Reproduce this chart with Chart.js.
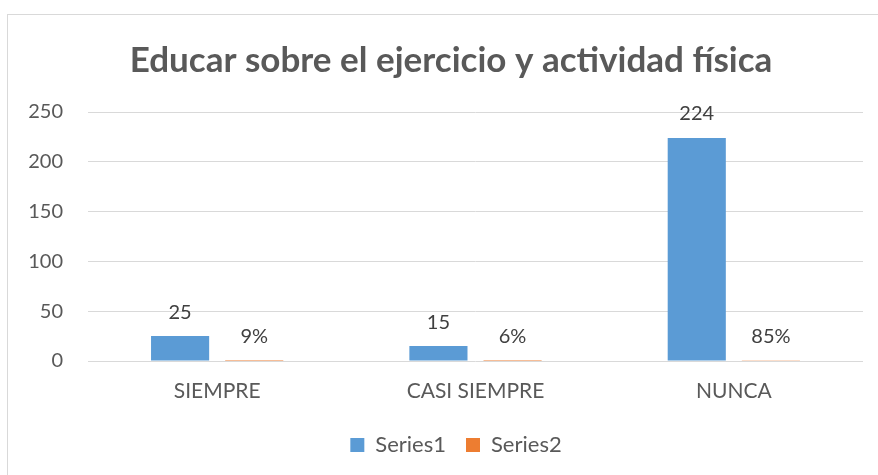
<!DOCTYPE html>
<html>
<head>
<meta charset="utf-8">
<script src="https://cdn.jsdelivr.net/npm/chart.js@4"></script>
<style>
  body { margin: 0; background: #fff; }
  #wrap { width: 878px; height: 475px; position: relative; }
</style>
</head>
<body>
<div id="wrap"><canvas id="chartCanvas"></canvas></div>
<script>
const categorias = ["SIEMPRE", "CASI SIEMPRE", "NUNCA"];
const series1 = [25, 15, 224];
const series2 = [0.09, 0.06, 0.85];
const yTicks = [0, 50, 100, 150, 200, 250];

const FONT = "Lato, 'Open Sans', sans-serif";
const GRIS = "#595959";

// borde del marco del gráfico (como en Excel)
const marcoPlugin = {
  id: "marco",
  beforeDraw(chart) {
    const ctx = chart.ctx;
    ctx.save();
    ctx.strokeStyle = "#d9d9d9";
    ctx.lineWidth = 1;
    ctx.strokeRect(7.5, 14.5, 1000, 1000);
    ctx.restore();
  },
  // el marco original sigue más allá del borde derecho: título y leyenda van algo corridos
  afterLayout(chart) {
    if (chart.titleBlock) chart.titleBlock.left = 39;
    if (chart.legend) chart.legend.left = 49;
  }
};

// etiquetas de datos sobre las barras
const etiquetasPlugin = {
  id: "etiquetas",
  afterDatasetsDraw(chart) {
    const ctx = chart.ctx;
    ctx.save();
    ctx.font = "20px " + FONT;
    ctx.fillStyle = "#404040";
    ctx.textAlign = "center";
    ctx.textBaseline = "middle";
    chart.data.datasets.forEach((ds, i) => {
      chart.getDatasetMeta(i).data.forEach((bar, j) => {
        const v = ds.data[j];
        const txt = i === 0 ? String(v) : Math.round(v * 100) + "%";
        ctx.fillText(txt, bar.x, bar.y - 24);
      });
    });
    ctx.restore();
  }
};

new Chart(document.getElementById("chartCanvas"), {
  type: "bar",
  data: {
    labels: categorias,
    datasets: [
      { label: "Series1", data: series1, backgroundColor: "#5b9bd5", categoryPercentage: 0.574, barPercentage: 0.784 },
      { label: "Series2", data: series2, backgroundColor: "#ed7d31", categoryPercentage: 0.574, barPercentage: 0.784 }
    ]
  },
  options: {
    responsive: true,
    maintainAspectRatio: false,
    animation: false,
    layout: { padding: { top: 40, right: 15, bottom: 9, left: 0 } },
    plugins: {
      title: {
        display: true,
        text: "Educar sobre el ejercicio y actividad física",
        color: GRIS,
        font: { family: FONT, size: 35, weight: "bold" },
        padding: { top: 0, bottom: 30 }
      },
      legend: {
        position: "bottom",
        labels: {
          color: GRIS,
          font: { family: FONT, size: 22 },
          boxWidth: 14,
          boxHeight: 14,
          padding: 20
        }
      },
      tooltip: { enabled: false }
    },
    scales: {
      y: {
        min: 0,
        max: 250,
        afterBuildTicks: s => { s.ticks = yTicks.map(v => ({ value: v })); },
        afterFit: s => { s.width = 88; },
        ticks: { color: GRIS, font: { family: FONT, size: 20 }, padding: 25 },
        grid: { color: "#d9d9d9", drawTicks: false },
        border: { display: false }
      },
      x: {
        afterFit: s => { s.height = 53; },
        ticks: { color: GRIS, font: { family: FONT, size: 21 }, padding: 18 },
        grid: { display: false, drawTicks: false },
        border: { display: false }
      }
    }
  },
  plugins: [marcoPlugin, etiquetasPlugin]
});
</script>
</body>
</html>
